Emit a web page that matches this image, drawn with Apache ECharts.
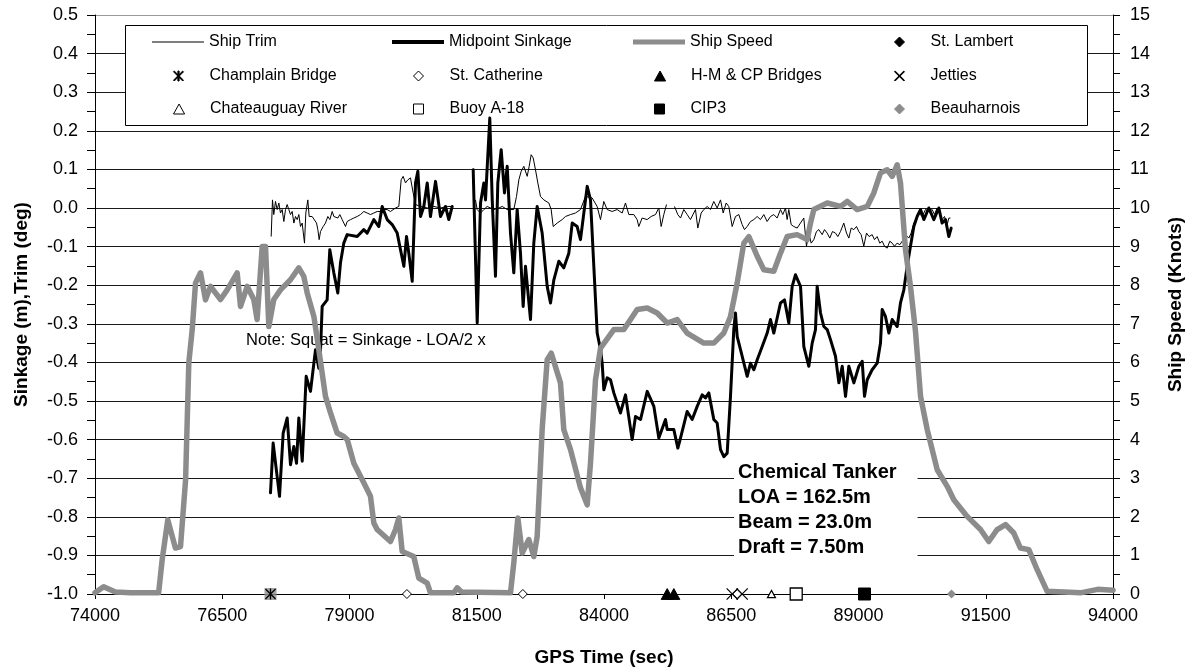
<!DOCTYPE html>
<html><head><meta charset="utf-8">
<script src="https://cdn.jsdelivr.net/npm/echarts@6/dist/echarts.min.js"></script>
<style>html,body{margin:0;padding:0;background:#fff}#c{width:1185px;height:668px}</style>
</head><body><div id="c"></div>
<script>
// ---------------- DATA ----------------
const xTicks = [74000, 76500, 79000, 81500, 84000, 86500, 89000, 91500, 94000];

const speedT = [74000,74170,74400,74700,75250,75320,75430,75580,75680,75780,75843,75910,75975,76073,76171,76269,76466,76597,76793,76859,76990,77120,77185,77285,77350,77415,77513,77644,77840,78004,78102,78169,78300,78397,78528,78627,78758,78888,78955,79085,79281,79412,79478,79543,79805,79904,79969,80035,80263,80362,80527,80591,81050,81116,81200,82163,82228,82307,82393,82523,82621,82687,82785,82884,82963,83145,83210,83342,83538,83670,83735,83833,83932,84193,84390,84652,84849,85045,85242,85438,85634,85961,86157,86354,86485,86617,86747,86846,87010,87140,87336,87467,87599,87795,87992,88057,88122,88385,88647,88778,88974,89171,89301,89432,89563,89662,89760,89825,89923,90021,90120,90219,90350,90546,90743,90872,91135,91397,91560,91724,91888,92051,92182,92346,92510,92707,93360,93700,94000];
const speedKn = [0.03,0.19,0.05,0.03,0.03,0.89,1.92,1.19,1.23,2.96,5.99,6.85,8.06,8.32,7.62,7.97,7.63,7.88,8.32,7.45,7.97,7.63,7.11,9.00,9.00,6.93,7.63,7.88,8.14,8.45,8.23,7.80,7.19,6.33,5.12,4.69,4.17,4.08,4.00,3.39,2.88,2.53,1.84,1.67,1.36,1.67,1.97,1.10,0.97,0.41,0.28,0.03,0.03,0.16,0.05,0.03,0.81,1.97,1.06,1.41,0.97,1.49,4.26,6.07,6.24,5.47,4.26,3.74,2.75,2.31,3.40,5.55,6.37,6.85,6.85,7.37,7.41,7.28,7.02,7.11,6.76,6.50,6.50,6.76,7.19,8.06,9.09,9.26,8.75,8.40,8.36,8.83,9.26,9.31,9.18,9.61,9.96,10.13,10.04,10.17,9.96,10.04,10.39,10.91,10.99,10.82,11.12,10.65,8.92,7.97,6.80,5.12,4.26,3.22,2.79,2.44,2.01,1.67,1.36,1.67,1.80,1.58,1.19,1.15,0.63,0.07,0.03,0.12,0.10];

const sinkT = [77448,77500,77625,77697,77776,77841,77906,77959,78004,78071,78149,78234,78332,78397,78430,78463,78561,78613,78692,78770,78823,78888,78954,79151,79281,79347,79478,79576,79642,79740,79839,79937,80002,80068,80120,80165,80232,80297,80343,80395,80460,80527,80591,80690,80788,80886,80951,81018,81200,81430,81509,81574,81639,81672,81756,81804,81868,81914,81980,82045,82098,82163,82228,82294,82359,82412,82458,82556,82621,82687,82785,82884,82949,83015,83112,83210,83309,83375,83473,83538,83670,83735,83800,83866,83932,83964,83997,84062,84128,84193,84324,84422,84553,84619,84717,84849,84980,85077,85208,85242,85372,85451,85503,85634,85732,85831,85929,85994,86059,86157,86223,86289,86354,86420,86485,86550,86583,86617,86682,86813,86878,86944,87010,87108,87206,87271,87336,87467,87546,87631,87697,87762,87861,87926,88024,88090,88155,88188,88254,88319,88385,88450,88548,88614,88680,88745,88810,88909,89007,89073,89118,89171,89268,89367,89432,89465,89530,89596,89662,89760,89825,89891,89956,90021,90087,90152,90218,90284,90381,90480,90578,90643,90709,90774,90821];
const sinkM = [-0.738,-0.609,-0.747,-0.583,-0.544,-0.665,-0.618,-0.661,-0.544,-0.656,-0.436,-0.475,-0.367,-0.415,-0.370,-0.255,-0.238,-0.108,-0.168,-0.220,-0.142,-0.091,-0.069,-0.074,-0.056,-0.065,-0.030,-0.048,0.004,-0.030,-0.043,-0.065,-0.108,-0.151,-0.074,-0.117,-0.190,0.065,0.095,-0.022,0.004,0.065,-0.022,0.069,-0.022,0.004,-0.030,0.004,null,0.099,-0.298,0.013,0.065,0.021,0.233,0.021,-0.177,0.065,0.151,0.039,0.108,-0.065,-0.168,-0.004,-0.117,-0.255,-0.151,-0.289,-0.091,0.004,-0.065,-0.203,-0.246,-0.186,-0.138,-0.155,-0.117,-0.039,-0.048,-0.082,0.056,0.021,-0.151,-0.324,-0.367,-0.402,-0.471,-0.440,-0.445,-0.479,-0.531,-0.484,-0.600,-0.540,-0.548,-0.475,-0.514,-0.596,-0.548,-0.574,-0.574,-0.622,-0.596,-0.527,-0.548,-0.514,-0.484,-0.492,-0.479,-0.548,-0.557,-0.626,-0.644,-0.635,-0.488,-0.315,-0.272,-0.333,-0.367,-0.436,-0.402,-0.419,-0.393,-0.359,-0.324,-0.289,-0.324,-0.246,-0.238,-0.298,-0.203,-0.173,-0.203,-0.359,-0.410,-0.350,-0.315,-0.203,-0.272,-0.307,-0.315,-0.341,-0.384,-0.453,-0.410,-0.488,-0.410,-0.453,-0.410,-0.397,-0.488,-0.445,-0.419,-0.402,-0.350,-0.263,-0.281,-0.324,-0.289,-0.307,-0.246,-0.212,-0.151,-0.099,-0.048,-0.022,-0.004,-0.030,0.000,-0.030,0.000,-0.039,-0.030,-0.074,-0.052];

const trimT = [77461,77487,77513,77546,77579,77612,77644,77677,77710,77743,77775,77808,77841,77874,77907,77939,77972,78005,78037,78070,78116,78142,78181,78208,78234,78266,78299,78352,78378,78404,78430,78483,78528,78574,78614,78660,78693,78725,78771,78810,78856,78922,78954,79020,79085,79151,79216,79282,79347,79413,79478,79544,79609,79674,79740,79805,79904,79969,80015,80054,80100,80146,80198,80251,80297,80395,80526,80657,80788,80919,81017,81200,81475,81508,81574,81639,81705,81836,81934,82000,82098,82228,82281,82327,82373,82425,82491,82530,82569,82608,82654,82700,82752,82818,82916,82962,83002,83080,83178,83243,83342,83440,83538,83636,83767,83865,83931,83996,84062,84160,84258,84357,84422,84488,84586,84651,84684,84749,84848,84926,85012,85077,85123,85175,85228,85300,85385,85450,85503,85568,85634,85699,85797,85843,85909,85961,86027,86092,86157,86223,86289,86341,86400,86452,86518,86583,86649,86714,86760,86812,86878,86943,87009,87074,87140,87205,87271,87336,87401,87467,87513,87565,87598,87631,87677,87729,87795,87860,87925,87978,88024,88070,88122,88174,88220,88286,88332,88384,88436,88489,88548,88594,88646,88711,88764,88810,88856,88908,88961,89006,89052,89104,89157,89209,89268,89314,89366,89419,89465,89511,89563,89615,89661,89707,89759,89812,89858,89923,89989,90034,90087,90139,90185,90250,90316,90381,90447,90493,90545,90598,90643,90689,90742,90775,90807];
const trimDeg = [-0.074,0.021,-0.017,0.017,-0.004,0.013,-0.013,-0.004,-0.035,-0.004,0.009,-0.004,-0.017,-0.009,-0.039,-0.022,-0.030,-0.017,-0.048,-0.039,-0.091,-0.013,0.021,-0.022,-0.017,-0.022,-0.017,-0.039,-0.056,-0.082,-0.061,-0.048,-0.039,-0.022,-0.030,-0.009,-0.022,-0.017,-0.026,-0.017,-0.030,-0.048,-0.035,-0.030,-0.026,-0.022,-0.017,-0.009,-0.013,-0.017,-0.013,-0.009,-0.009,-0.004,-0.004,-0.009,0.000,0.004,0.073,0.082,0.065,0.073,0.078,0.039,0.009,0.004,0.000,0.004,0.000,0.004,0.004,null,0.021,-0.004,-0.013,-0.004,0.004,-0.004,0.000,0.004,-0.004,-0.004,0.030,0.073,0.095,0.108,0.082,0.108,0.138,0.130,0.099,0.065,0.030,0.021,0.013,-0.004,-0.048,-0.039,-0.030,-0.022,-0.017,-0.013,-0.004,0.030,0.026,0.004,-0.030,0.017,-0.004,-0.009,-0.004,-0.013,0.013,-0.017,-0.017,-0.030,-0.048,-0.026,-0.030,-0.022,-0.017,0.000,-0.048,-0.017,0.009,null,0.004,-0.017,-0.026,-0.004,-0.017,-0.030,-0.004,-0.052,-0.013,-0.004,0.004,-0.004,0.017,0.000,0.021,-0.013,0.013,0.004,-0.048,-0.022,-0.017,-0.043,-0.056,-0.048,-0.035,-0.030,-0.022,-0.030,-0.017,-0.035,-0.022,-0.017,-0.026,-0.004,-0.017,0.000,-0.030,-0.004,-0.043,-0.048,-0.052,-0.039,-0.026,-0.099,-0.065,-0.091,-0.082,-0.061,-0.056,-0.069,-0.056,-0.065,-0.078,-0.061,-0.065,-0.074,-0.061,-0.039,-0.065,-0.078,-0.052,-0.056,-0.048,-0.061,-0.069,-0.099,-0.065,-0.074,-0.069,-0.082,-0.074,-0.091,-0.086,-0.099,-0.104,-0.086,-0.091,-0.099,-0.091,-0.095,-0.086,-0.069,-0.078,-0.065,-0.039,-0.026,-0.013,-0.022,-0.004,-0.009,-0.004,-0.017,0.000,-0.013,-0.030,-0.022,-0.043,-0.026,-0.026];

// landmark markers (GPS time), drawn on the -1.0 baseline
const stLambertT = [];
const champlainT = [77448];
const stCatherineT = [80128, 82405, 86617];
const hmcpT = [85242, 85372];
const jettiesT = [86519, 86715];
const chateauguayT = [87290];
const buoyT = [87776];
const cip3T = [89118];
const beauharnoisT = [90827];
const markerLevel = -1.0;

const noteText = 'Note: Squat = Sinkage - LOA/2 x';
const tankerLines = ['Chemical Tanker', 'LOA = 162.5m', 'Beam = 23.0m', 'Draft = 7.50m'];

// ---------------- CHART ----------------
const FF = '"Liberation Sans", Arial, Helvetica, sans-serif';
const zip = (a, b) => a.map((t, i) => [t, b[i] == null ? '-' : b[i]]);
const mk = ts => ts.map(t => [t, markerLevel]);

const P = {
  asterisk: 'path://M4.4,0L5.6,0L5.6,10L4.4,10Z M0,0.8L0.8,0L10,9.2L9.2,10Z M9.2,0L10,0.8L0.8,10L0,9.2Z',
  cross: 'path://M0,0.7L0.7,0L10,9.3L9.3,10Z M9.3,0L10,0.7L0.7,10L0,9.3Z',
  diamond: 'path://M5,0L10,5L5,10L0,5Z',
  triangle: 'path://M5,0L10,9L0,9Z',
  square: 'path://M0,0L10,0L10,10L0,10Z'
};

function scatter(name, data, symbol, size, fill, border, bw, z) {
  return {
    name, type: 'scatter', yAxisIndex: 0, data, symbol, symbolSize: size, clip: false,
    z: z || 6, symbolKeepAspect: true,
    itemStyle: { color: fill, borderColor: border, borderWidth: bw, opacity: 1 },
    emphasis: { disabled: true }
  };
}

const series = [
  { name: 'Ship Trim', type: 'line', yAxisIndex: 0, data: zip(trimT, trimDeg), symbol: 'none', showSymbol: false,
    lineStyle: { color: '#000', width: 1 }, itemStyle: { color: '#000' }, z: 2, connectNulls: false },
  { name: 'Midpoint Sinkage', type: 'line', yAxisIndex: 0, data: zip(sinkT, sinkM), symbol: 'none', showSymbol: false,
    lineStyle: { color: '#000', width: 3, join: 'round', cap: 'round' }, itemStyle: { color: '#000' }, z: 3, connectNulls: false },
  { name: 'Ship Speed', type: 'line', yAxisIndex: 1, data: zip(speedT, speedKn), symbol: 'none', showSymbol: false,
    lineStyle: { color: '#8c8c8c', width: 5.5, join: 'round', cap: 'round' }, itemStyle: { color: '#8c8c8c' }, z: 4 },
  scatter('St. Lambert', mk(stLambertT), P.diamond, 10, '#000', '#000', 1),
  { name: '_champlainBack', type: 'scatter', yAxisIndex: 0, data: mk(champlainT), symbol: 'rect', symbolSize: 12, clip: false, z: 5,
    itemStyle: { color: '#8c8c8c' }, emphasis: { disabled: true } },
  scatter('Champlain Bridge', mk(champlainT), P.asterisk, 11, '#000', '#000', 0, 7),
  scatter('St. Catherine', mk(stCatherineT), P.diamond, 9, '#fff', '#000', 1),
  scatter('H-M & CP Bridges', mk(hmcpT), P.triangle, 12, '#000', '#000', 1),
  scatter('Jetties', mk(jettiesT), P.cross, 12, '#000', '#000', 0),
  scatter('Chateauguay River', mk(chateauguayT), P.triangle, 8, '#fff', '#000', 1.2),
  scatter('Buoy A-18', mk(buoyT), P.square, 12, '#fff', '#000', 1.3),
  scatter('CIP3', mk(cip3T), P.square, 12, '#000', '#000', 1),
  scatter('Beauharnois', mk(beauharnoisT), P.diamond, 9, '#8c8c8c', '#8c8c8c', 0)
];

// [name, text x, row top, kind, icon height]
const legendCells = [
  ['Ship Trim', 209, 34, 'line', 1], ['Midpoint Sinkage', 449, 34, 'line', 4], ['Ship Speed', 690, 34, 'line', 5], ['St. Lambert', 930, 34, 'mark', 10],
  ['Champlain Bridge', 209, 68, 'mark', 10], ['St. Catherine', 449, 68, 'mark', 10], ['H-M & CP Bridges', 690, 68, 'mark', 10], ['Jetties', 930, 68, 'mark', 10],
  ['Chateauguay River', 209, 101, 'mark', 10], ['Buoy A-18', 449, 101, 'mark', 10], ['CIP3', 690, 101, 'mark', 10], ['Beauharnois', 930, 101, 'mark', 10]
];
const legends = legendCells.map(([name, tx, top, kind, h]) => {
  const base = {
    top, itemWidth: 52, itemHeight: h, padding: 0, selectedMode: false, itemGap: 0,
    textStyle: { fontSize: 16, fontFamily: FF, color: '#000' }
  };
  if (kind === 'line') {
    return Object.assign(base, { left: tx - 57, data: [{ name, icon: 'rect' }], symbolKeepAspect: false,
      itemStyle: { borderWidth: 0 } });
  }
  return Object.assign(base, { left: tx - 36, data: [name], symbolKeepAspect: true, itemStyle: { borderWidth: 1 } });
});

const splitColors = [];
for (let i = 0; i < 15; i++) splitColors.push('#1a1a1a');
splitColors.push('#9a9a9a');

const labelStyle = { color: '#000', fontSize: 18, fontFamily: FF };
const nameStyle = { color: '#000', fontSize: 19, fontWeight: 'bold', fontFamily: FF };

const option = {
  animation: false,
  backgroundColor: '#fff',
  grid: { left: 95, right: 72, top: 15, bottom: 74, containLabel: false, outerBoundsMode: 'none' },
  legend: legends,
  xAxis: {
    type: 'value', min: xTicks[0], max: xTicks[xTicks.length - 1], interval: xTicks[1] - xTicks[0],
    axisLine: { show: true, onZero: false, lineStyle: { color: '#000', width: 1 } },
    axisTick: { show: true, length: 5, lineStyle: { color: '#000' } },
    axisLabel: Object.assign({ margin: 13, formatter: v => String(Math.round(v)) }, labelStyle),
    splitLine: { show: false },
    name: 'GPS Time (sec)', nameLocation: 'middle', nameGap: 54, nameTextStyle: nameStyle
  },
  yAxis: [
    {
      type: 'value', min: -1, max: 0.5, interval: 0.1, position: 'left',
      axisLine: { show: true, onZero: false, lineStyle: { color: '#000', width: 1 } },
      axisTick: { show: true, length: 8, lineStyle: { color: '#000' } },
      minorTick: { show: true, splitNumber: 2, length: 8, lineStyle: { color: '#000' } },
      axisLabel: Object.assign({ margin: 17, formatter: v => (Math.abs(v) < 1e-9 ? '0.0' : v.toFixed(1)) }, labelStyle),
      splitLine: { show: true, lineStyle: { color: splitColors, width: 1 } },
      name: 'Sinkage (m),Trim (deg)', nameLocation: 'middle', nameGap: 64, nameTextStyle: nameStyle
    },
    {
      type: 'value', min: 0, max: 15, interval: 1, position: 'right',
      axisLine: { show: true, onZero: false, lineStyle: { color: '#000', width: 1 } },
      axisTick: { show: true, length: 7, lineStyle: { color: '#000' } },
      minorTick: { show: true, splitNumber: 2, length: 7, lineStyle: { color: '#000' } },
      axisLabel: Object.assign({ margin: 17, formatter: v => String(Math.round(v)) }, labelStyle),
      splitLine: { show: false },
      name: 'Ship Speed (Knots)', nameLocation: 'middle', nameGap: 53, nameTextStyle: nameStyle
    }
  ],
  graphic: [
    { type: 'rect', z: 1, silent: true, shape: { x: 125.5, y: 25.5, width: 962, height: 100 },
      style: { fill: '#fff', stroke: '#000', lineWidth: 1 } },
    { type: 'text', z: 1, silent: true, x: 246, y: 340,
      style: { text: noteText, fill: '#000', fontSize: 16.5, fontFamily: FF, verticalAlign: 'middle', align: 'left' } },
    { type: 'text', z: 1, silent: true, x: 734, y: 457,
      style: { text: tankerLines.join('\n'), fill: '#000', fontSize: 20, fontWeight: 'bold', fontFamily: FF,
        lineHeight: 25, backgroundColor: '#fff', padding: [3, 21, 3, 4], align: 'left', verticalAlign: 'top' } }
  ],
  series
};

const chart = echarts.init(document.getElementById('c'), null, { renderer: 'canvas' });
chart.setOption(option);
</script></body></html>
